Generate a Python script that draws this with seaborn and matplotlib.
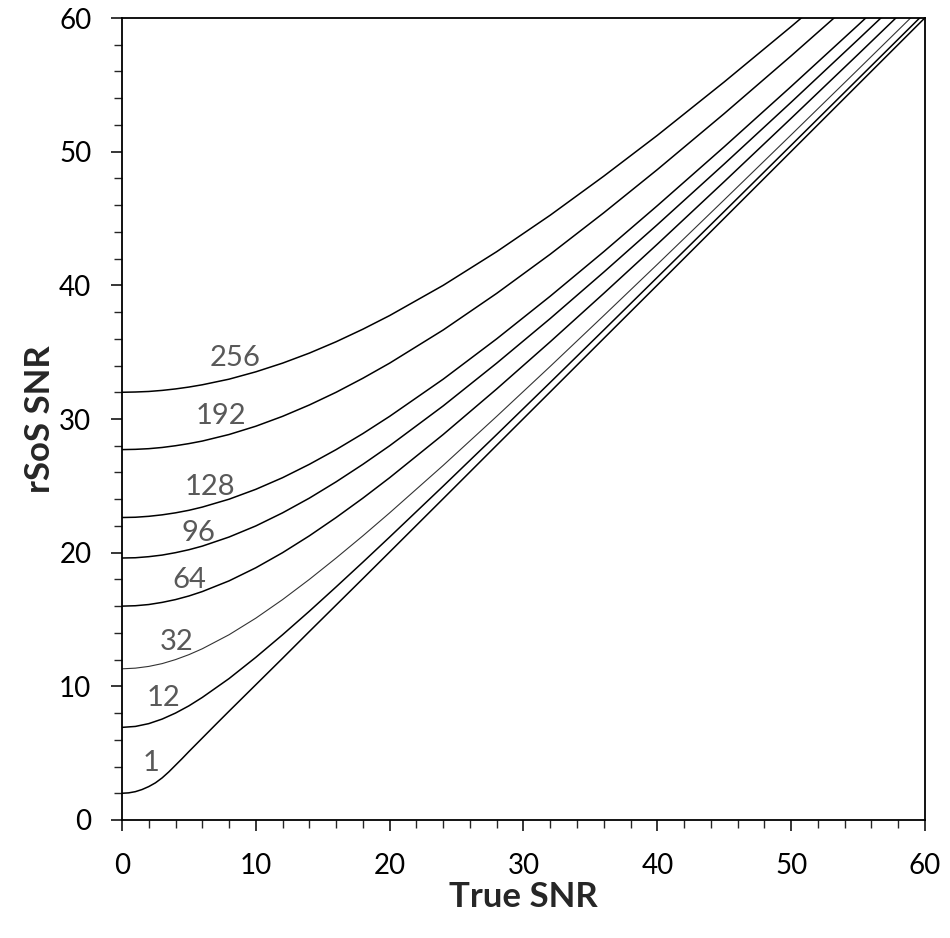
import pandas as pd
import matplotlib.pyplot as plt
import seaborn as sns

# True SNR sample points, read along the x axis
true_snr = [0, 1, 2, 3, 4, 5, 6, 8, 10, 12, 14, 16, 18, 20, 24, 28, 32, 36, 40, 45, 50, 55, 60]
# the single-channel curve bends sharply near the origin, so it is read more densely there
true_snr_n1 = [0, 0.5, 1, 1.5, 2, 2.5, 3, 3.5, 4, 4.5, 5, 6, 7, 8, 10, 12, 14, 16, 18, 20,
               24, 28, 32, 36, 40, 45, 50, 55, 60]

# rSoS SNR, keyed by number of channels
n1 = [2.0, 2.03, 2.12, 2.28, 2.5, 2.78, 3.15, 3.6, 4.1, 4.6, 5.12, 6.13, 7.14, 8.14, 10.12,
      12.1, 14.1, 16.08, 18.06, 20.05, 24.04, 28.04, 32.03, 36.03, 40.02, 45.02, 50.02, 55.02, 60.02]
n12 = [6.93, 7.0, 7.21, 7.55, 8.0, 8.54, 9.17, 10.58, 12.17, 13.86, 15.62, 17.44, 19.29, 21.17,
       24.98, 28.84, 32.74, 36.66, 40.6, 45.53, 50.48, 55.44, 60.4]
n32 = [11.31, 11.36, 11.49, 11.7, 12.0, 12.37, 12.81, 13.86, 15.1, 16.49, 18.0, 19.6, 21.26, 22.98,
       26.53, 30.2, 33.94, 37.74, 41.57, 46.4, 51.26, 56.15, 61.06]
n64 = [16.0, 16.03, 16.12, 16.28, 16.49, 16.76, 17.09, 17.89, 18.87, 20.0, 21.26, 22.63, 24.08, 25.61,
       28.84, 32.25, 35.78, 39.4, 43.08, 47.76, 52.5, 57.28, 62.1]
n96 = [19.6, 19.62, 19.7, 19.82, 20.0, 20.22, 20.49, 21.17, 22.0, 22.98, 24.08, 25.3, 26.61, 28.0,
       30.98, 34.18, 37.52, 40.99, 44.54, 49.08, 53.7, 58.39, 63.12]
n128 = [22.63, 22.65, 22.72, 22.83, 22.98, 23.17, 23.41, 24.0, 24.74, 25.61, 26.61, 27.71, 28.91, 30.2,
        32.98, 36.0, 39.19, 42.52, 45.96, 50.37, 54.88, 59.47, 64.12]
n192 = [27.71, 27.73, 27.78, 27.87, 28.0, 28.16, 28.35, 28.84, 29.46, 30.2, 31.05, 32.0, 33.05, 34.18,
        36.66, 39.4, 42.33, 45.43, 48.66, 52.85, 57.17, 61.59, 66.09]
n256 = [32.0, 32.02, 32.06, 32.14, 32.25, 32.39, 32.56, 32.98, 33.53, 34.18, 34.93, 35.78, 36.72, 37.74,
        40.0, 42.52, 45.25, 48.17, 51.22, 55.22, 59.36, 63.6, 68.0]

channels = [1, 12, 32, 64, 96, 128, 192, 256]
curves = [n1, n12, n32, n64, n96, n128, n192, n256]

# label anchor points (x, y) in data units
label_x = [2.2, 3.1, 4.1, 5.0, 5.7, 6.6, 7.4, 8.45]
label_y = [4.3, 9.1, 13.3, 17.95, 21.5, 24.9, 30.2, 34.6]

df = pd.concat([pd.DataFrame({"True SNR": true_snr_n1 if n == 1 else true_snr,
                              "rSoS SNR": c, "N": n})
                for n, c in zip(channels, curves)])

sns.set_style("ticks")
plt.rcParams["font.family"] = ["Lato", "DejaVu Sans"]

fig = plt.figure(figsize=(9.5, 9.38), dpi=100)
ax = fig.add_axes([0.1284, 0.1258, 0.8453, 0.855])

for n in channels:
    lw = 0.8 if n == 32 else 1.1
    col = "#333333" if n == 32 else "black"
    sns.lineplot(data=df[df.N == n], x="True SNR", y="rSoS SNR", color=col,
                 linewidth=lw, ax=ax, legend=False, sort=False)

for n, lx, ly in zip(channels, label_x, label_y):
    ax.text(lx, ly, str(n), fontsize=21, color="#595959", ha="center", va="center")

ax.set_xlim(0, 60)
ax.set_ylim(0, 60)
ax.set_xticks(range(0, 61, 10))
ax.set_yticks(range(0, 61, 10))
ax.set_xticks(range(0, 61, 2), minor=True)
ax.set_yticks(range(0, 61, 2), minor=True)
ax.tick_params(which="major", direction="out", length=8, width=1.1, labelsize=20,
               colors="black")
ax.tick_params(axis="x", which="major", pad=16)
ax.tick_params(axis="y", which="major", pad=14)
ax.tick_params(which="minor", direction="out", length=5.5, width=1.0)
for s in ax.spines.values():
    s.set_visible(True)
    s.set_linewidth(1.3)
    s.set_color("black")

ax.set_xlabel("True SNR", fontsize=25, fontweight="bold", labelpad=1)
ax.set_ylabel("rSoS SNR", fontsize=25, fontweight="bold", labelpad=2)

fig.savefig("out.png", dpi=100)
